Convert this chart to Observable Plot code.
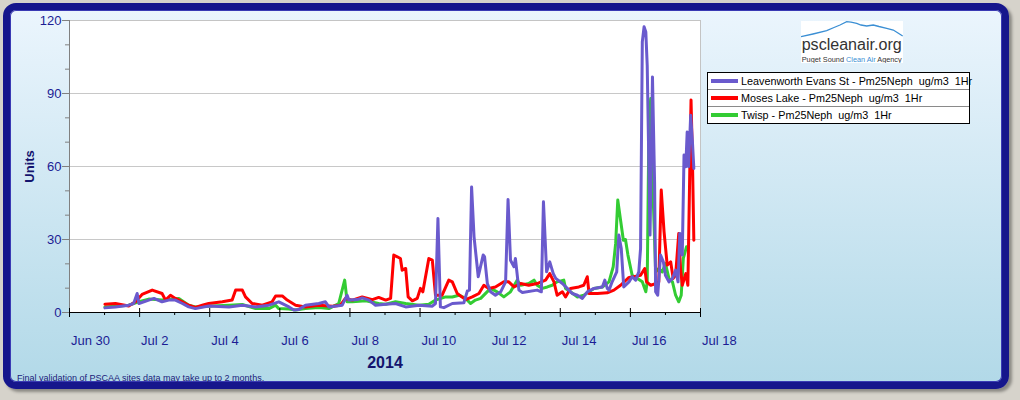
<!DOCTYPE html>
<html><head><meta charset="utf-8">
<script src="https://cdn.jsdelivr.net/npm/d3@7"></script>
<script src="https://cdn.jsdelivr.net/npm/@observablehq/plot@0.6"></script>
<style>
html,body{margin:0;padding:0;background:#d6d3cb;width:1020px;height:400px;overflow:hidden;font-family:"Liberation Sans",Arial,sans-serif;}
#wrap{position:relative;width:1020px;height:400px;}
#frame{position:absolute;left:3px;top:3px;width:992px;height:372px;border:7px solid #16168c;border-radius:13px;background:linear-gradient(#ebf5fd,#b2d9e8);box-shadow:3px 3px 3px rgba(0,0,0,.35), inset 0 0 0 1px #3a3ab4;}
#chart{position:absolute;left:0;top:0;}
#legend{position:absolute;left:707px;top:72px;width:261px;background:#fff;border:1px solid #000;font-size:10.8px;color:#000;}
.row{height:16px;display:flex;align-items:center;border-top:1px solid #8a8a8a;white-space:pre;}
.row:first-child{border-top:none;}
.sw{width:27px;height:4px;margin:0 3px 0 3px;flex:none;}
#logo{position:absolute;left:801px;top:21px;width:102px;height:42px;background:#fff;}
#note{position:absolute;left:17px;top:372.5px;font-size:9px;color:#1a1a7a;white-space:nowrap;}
</style>
</head><body>
<div id="wrap">
  <div id="frame"></div>
  <div id="chart"></div>
  <div id="logo">
    <svg width="102" height="42" viewBox="0 0 102 42">
      <polyline points="0,15.7 12,13 25.7,9.7 33,6.5 39,4 45.7,0.7 50,1.2 55.7,2.3 60,4 65.7,5 72.3,4 78,5.5 85.7,7.3 92.3,9 97,12 101.7,15" fill="none" stroke="#3b8fd4" stroke-width="1.3"/>
      <text x="0.7" y="29" font-family="Liberation Sans, Arial, sans-serif" font-size="16" fill="#333" textLength="100" lengthAdjust="spacingAndGlyphs">pscleanair.org</text>
      <text x="0.7" y="41" font-family="Liberation Sans, Arial, sans-serif" font-size="7.6" fill="#333" textLength="100" lengthAdjust="spacingAndGlyphs">Puget Sound <tspan fill="#3b8fd4">Clean Air</tspan> Agency</text>
    </svg>
  </div>
  <div id="legend"></div>
  <div id="note">Final validation of PSCAA sites data may take up to 2 months.</div>
</div>
<script>
// ---- data: time in days since Jun 30 2014 00:00, values in ug/m3 ----
const seriesNames = [
  "Leavenworth Evans St - Pm25Neph  ug/m3  1Hr",
  "Moses Lake - Pm25Neph  ug/m3  1Hr",
  "Twisp - Pm25Neph  ug/m3  1Hr"
];
const seriesColors = ["#6a5acd", "#ff0000", "#33cc33"];

const leavenworthDays = [1.01,1.31,1.69,1.83,1.93,1.98,2.26,2.41,2.64,2.83,3.02,3.22,3.40,3.59,3.97,4.55,4.93,5.31,5.69,5.97,6.26,6.40,6.54,6.73,7.11,7.30,7.40,7.78,7.92,7.97,8.21,8.35,8.54,8.73,9.02,9.30,9.59,9.97,10.35,10.44,10.51,10.58,10.68,10.92,11.25,11.35,11.41,11.47,11.54,11.66,11.80,11.84,11.92,12.01,12.15,12.30,12.44,12.51,12.58,12.68,12.72,12.82,12.92,13.34,13.46,13.52,13.61,13.70,13.80,13.87,14.06,14.20,14.34,14.49,14.63,14.77,14.96,15.20,15.27,15.34,15.39,15.48,15.61,15.67,15.74,15.81,15.96,16.05,16.15,16.24,16.29,16.34,16.39,16.44,16.48,16.56,16.60,16.63,16.69,16.72,16.78,16.86,16.94,17.00,17.10,17.20,17.29,17.36,17.41,17.48,17.53,17.58,17.62,17.66,17.72,17.77,17.81];
const leavenworthValues = [1.9,2.3,3.0,3.7,7.8,3.7,5.1,5.8,4.4,5.1,5.1,3.7,2.3,1.6,2.7,2.3,3.0,2.3,3.0,4.4,2.3,1.0,1.2,3.0,3.7,4.4,2.3,3.0,7.1,5.1,5.3,6.0,5.1,3.0,3.4,3.7,2.3,3.0,2.6,3.7,38.6,2.3,2.0,3.7,4.0,8.9,9.2,51.6,31.1,14.7,23.6,22.9,11.9,8.5,7.1,8.5,12.6,46.4,21.5,18.8,22.2,9.2,8.2,9.2,8.5,45.5,16.7,20.8,16.0,14.0,11.9,9.9,7.8,7.1,5.8,8.5,9.9,10.5,13.3,9.9,9.2,12.6,16.7,31.8,26.3,10.5,12.6,14.7,13.3,16.7,26.3,111.2,117.4,115.3,101.6,31.8,67.4,96.8,53.7,8.5,7.1,23.6,20.8,15.3,12.6,14.0,17.4,12.6,32.5,23.6,64.7,59.9,74.2,59.9,81.1,70.1,59.2];

const mosesDays = [1.01,1.31,1.69,1.88,2.07,2.36,2.64,2.74,2.88,3.02,3.22,3.40,3.59,3.79,3.97,4.36,4.64,4.74,4.93,5.02,5.21,5.50,5.78,5.88,6.07,6.21,6.45,6.73,7.11,7.50,7.73,7.87,8.07,8.35,8.64,8.82,9.02,9.16,9.25,9.35,9.44,9.49,9.59,9.66,9.78,9.92,10.01,10.08,10.25,10.35,10.44,10.63,10.82,10.92,11.06,11.30,11.49,11.68,11.82,11.96,12.15,12.39,12.53,12.68,12.87,13.10,13.34,13.58,13.70,13.82,13.91,14.06,14.15,14.29,14.53,14.67,14.77,14.82,15.06,15.34,15.53,15.72,15.96,16.10,16.29,16.41,16.46,16.58,16.72,16.81,16.88,16.96,17.05,17.15,17.22,17.29,17.38,17.43,17.48,17.58,17.64,17.70,17.73,17.77,17.81];
const mosesValues = [3.4,3.7,2.7,4.4,7.4,9.2,7.8,5.1,7.1,5.8,4.4,3.0,2.1,3.0,3.7,4.4,5.1,9.2,9.2,6.4,3.7,3.0,4.4,6.8,6.8,5.1,3.0,2.3,3.0,2.6,3.0,5.8,5.1,6.4,5.3,6.2,5.1,5.8,23.6,22.9,22.2,17.4,18.1,6.4,4.8,5.8,9.9,8.5,22.2,21.5,7.1,7.1,13.3,12.6,7.8,5.3,6.4,7.8,11.2,9.9,10.5,12.6,12.6,10.5,11.9,11.2,11.9,13.3,16.0,12.6,7.1,8.5,6.4,9.9,10.5,11.2,14.7,7.8,7.8,8.1,9.2,11.2,14.4,14.7,15.3,18.1,12.6,11.2,11.9,12.6,50.3,33.2,19.5,20.8,14.0,15.3,32.5,18.1,11.2,16.0,11.2,63.3,87.3,63.3,29.7];

const twispDays = [1.01,1.69,1.98,2.26,2.64,3.12,3.40,3.59,4.07,4.55,4.93,5.31,5.69,5.88,5.97,6.26,6.45,6.73,7.11,7.40,7.68,7.85,7.92,8.07,8.45,8.82,9.02,9.30,9.59,9.97,10.25,10.44,10.73,10.92,11.11,11.30,11.44,11.58,11.73,12.01,12.20,12.39,12.58,12.77,12.87,13.10,13.25,13.34,13.49,13.63,13.77,13.91,14.10,14.15,14.29,14.49,14.67,14.96,15.20,15.39,15.51,15.58,15.64,15.72,15.80,15.86,15.93,16.05,16.20,16.34,16.44,16.48,16.53,16.58,16.62,16.72,16.81,16.91,17.00,17.10,17.20,17.29,17.38,17.45,17.51,17.60];
const twispValues = [2.3,3.0,4.4,5.5,5.1,5.8,3.0,2.3,2.7,3.0,3.3,1.6,1.6,3.0,1.6,1.4,1.0,1.6,2.1,1.6,3.7,13.3,4.4,4.4,4.8,3.7,3.4,4.4,3.7,3.0,3.4,5.1,6.4,6.4,7.1,5.8,3.7,5.1,5.8,9.9,8.5,6.4,8.5,13.3,11.2,11.9,13.3,11.2,9.9,10.5,11.2,12.6,13.3,9.9,8.5,6.4,7.1,9.9,10.5,12.6,18.8,28.4,46.2,37.9,29.7,30.0,23.6,15.3,14.0,12.6,8.5,12.6,78.4,87.9,60.5,16.7,18.1,16.7,20.1,14.0,12.6,7.1,4.4,7.1,22.2,27.0];

const yMajorTicks = [0, 30, 60, 90, 120];
const yMinorTicks = [10, 20, 40, 50, 70, 80, 100, 110];
const yGridLines = [30, 60, 90];
const xMajorDays = [0, 2, 4, 6, 8, 10, 12, 14, 16, 18];
const xMinorDays = [1, 3, 5, 7, 9, 11, 13, 15, 17];
const xTickLabels = ["Jun 30", "Jul 2", "Jul 4", "Jul 6", "Jul 8", "Jul 10", "Jul 12", "Jul 14", "Jul 16", "Jul 18"];
const yearLabel = "2014";
const yAxisTitle = "Units";

// ---- build ----
const base = Date.UTC(2014, 5, 30);
const toDate = d => new Date(base + d * 864e5);
const toRows = (days, values) => days.map((d, i) => ({time: toDate(d), value: values[i]}));
const leavenworth = toRows(leavenworthDays, leavenworthValues);
const moses = toRows(mosesDays, mosesValues);
const twisp = toRows(twispDays, twispValues);
const majorDates = xMajorDays.map(toDate);
const minorDates = xMinorDays.map(toDate);
const labelMap = new Map(majorDates.map((d, i) => [+d, xTickLabels[i]]));

const navy = "#1c1c94";
const chart = Plot.plot({
  width: 1020, height: 400,
  marginLeft: 69, marginRight: 320, marginTop: 20, marginBottom: 88,
  style: {background: "transparent", overflow: "visible", fontFamily: "Liberation Sans, Arial, sans-serif"},
  x: {type: "utc", domain: [toDate(0), toDate(18)]},
  y: {domain: [0, 120]},
  marks: [
    Plot.frame({fill: "white", stroke: "#c4c4c4"}),
    Plot.gridY(yGridLines, {stroke: "#c8c8c8", strokeOpacity: 1}),
    Plot.lineY(twisp, {x: "time", y: "value", stroke: seriesColors[2], strokeWidth: 3, strokeLinejoin: "round"}),
    Plot.lineY(moses, {x: "time", y: "value", stroke: seriesColors[1], strokeWidth: 3, strokeLinejoin: "round"}),
    Plot.lineY(leavenworth, {x: "time", y: "value", stroke: seriesColors[0], strokeWidth: 3, strokeLinejoin: "round"}),
    Plot.ruleX([toDate(0)], {stroke: "#808080"}),
    Plot.ruleY([0], {stroke: "#000"}),
    Plot.axisY(yMajorTicks, {tickSize: 7, tickPadding: 1, stroke: "#808080", fill: navy, fontSize: 13, label: null, tickFormat: d => String(d)}),
    Plot.axisY(yMinorTicks, {tickSize: 4, stroke: "#808080", tickFormat: () => "", label: null}),
    Plot.axisX(majorDates, {tickSize: 9, dy: -4, stroke: "#000", tickFormat: () => "", label: null}),
    Plot.axisX(minorDates, {tickSize: 3, stroke: "#000", tickFormat: () => "", label: null}),
    Plot.axisX(majorDates, {tickSize: 0, tickPadding: 23, textAnchor: "start", dx: 1.5, fontSize: 13, fill: navy, tickFormat: d => labelMap.get(+d), label: null}),
    Plot.text([yearLabel], {text: d => d, frameAnchor: "bottom", lineAnchor: "middle", textAnchor: "middle", dy: 50.5, fontSize: 16, fontWeight: "bold", fill: "#14146e"}),
    Plot.text([yAxisTitle], {text: d => d, frameAnchor: "left", textAnchor: "middle", lineAnchor: "middle", dx: -40, rotate: -90, fontSize: 13, fontWeight: "bold", fill: "#14146e"})
  ]
});
document.getElementById("chart").appendChild(chart);

const legend = document.getElementById("legend");
seriesNames.forEach((name, i) => {
  const row = document.createElement("div");
  row.className = "row";
  const sw = document.createElement("span");
  sw.className = "sw";
  sw.style.background = seriesColors[i];
  const label = document.createElement("span");
  label.textContent = name;
  row.appendChild(sw);
  row.appendChild(label);
  legend.appendChild(row);
});
</script>
</body></html>
